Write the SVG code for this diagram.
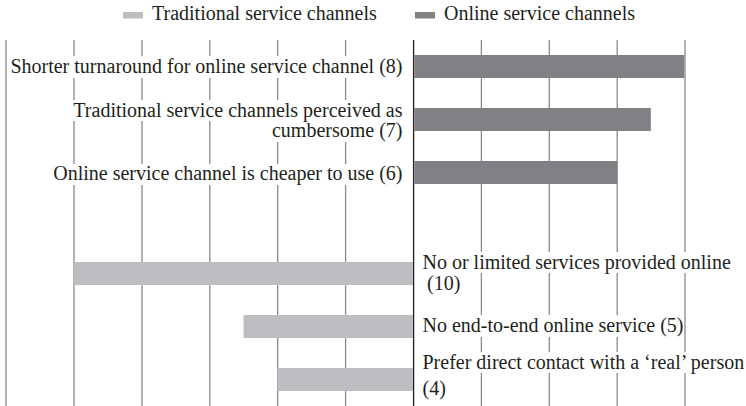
<svg xmlns="http://www.w3.org/2000/svg" width="746" height="406" viewBox="0 0 746 406">
<style>
text{font-family:'Liberation Serif','DejaVu Serif',serif;font-size:20px;fill:#231f20}
.grid{stroke:#8a8a8a;stroke-width:1.3}
.axis{stroke:#231f20;stroke-width:1.3}
.online{fill:#808184}
.trad{fill:#bdbec2}
.bg{fill:#ffffff}
.end{text-anchor:end}
</style>
<rect width="746" height="406" fill="#ffffff"/>
<g id="legend">
<rect class="trad" x="123" y="12" width="20" height="6.5"/>
<text x="152" y="20">Traditional service channels</text>
<rect class="online" x="415" y="12" width="20" height="6.5"/>
<text x="444" y="20">Online service channels</text>
</g>
<g id="gridlines">
<line class="grid" x1="6" y1="40" x2="6" y2="406"/>
<line class="grid" x1="74" y1="40" x2="74" y2="406"/>
<line class="grid" x1="142" y1="40" x2="142" y2="406"/>
<line class="grid" x1="209.8" y1="40" x2="209.8" y2="406"/>
<line class="grid" x1="277.7" y1="40" x2="277.7" y2="406"/>
<line class="grid" x1="345.6" y1="40" x2="345.6" y2="406"/>
<line class="grid" x1="481.4" y1="40" x2="481.4" y2="406"/>
<line class="grid" x1="549.3" y1="40" x2="549.3" y2="406"/>
<line class="grid" x1="617.2" y1="40" x2="617.2" y2="406"/>
<line class="grid" x1="685" y1="40" x2="685" y2="406"/>
<line class="axis" x1="413.6" y1="40" x2="413.6" y2="406"/>
</g>
<g id="bar-shorter-turnaround">
<rect class="online" x="414.3" y="55" width="270" height="23"/>
<rect class="bg" x="9" y="56" width="394" height="22"/>
<text class="end" x="402.5" y="72.5">Shorter turnaround for online service channel (8)</text>
</g>
<g id="bar-cumbersome">
<rect class="online" x="414.3" y="108" width="236.5" height="23"/>
<rect class="bg" x="71.5" y="100" width="331.5" height="21"/>
<rect class="bg" x="267" y="121" width="136" height="21"/>
<text class="end" x="402.5" y="116.5">Traditional service channels perceived as</text>
<text class="end" x="402.5" y="136.5">cumbersome (7)</text>
</g>
<g id="bar-cheaper">
<rect class="online" x="414.3" y="161" width="202.8" height="23"/>
<rect class="bg" x="51" y="164" width="352" height="21"/>
<text class="end" x="402.5" y="180">Online service channel is cheaper to use (6)</text>
</g>
<g id="bar-no-limited">
<rect class="trad" x="74" y="262" width="339" height="23"/>
<rect class="bg" x="421.5" y="252" width="310" height="21"/>
<rect class="bg" x="426" y="273" width="36" height="21"/>
<text x="422.5" y="268.5">No or limited services provided online</text>
<text x="427" y="289.5">(10)</text>
</g>
<g id="bar-end-to-end">
<rect class="trad" x="243.5" y="315" width="169.5" height="23"/>
<rect class="bg" x="421.5" y="315" width="260" height="22"/>
<text x="422.5" y="331.5">No end-to-end online service (5)</text>
</g>
<g id="bar-real-person">
<rect class="trad" x="277.5" y="368" width="135.5" height="23"/>
<rect class="bg" x="421.5" y="352" width="318" height="21"/>
<rect class="bg" x="421.5" y="377" width="28" height="21"/>
<text x="422.5" y="368.5">Prefer direct contact with a ‘real’ person</text>
<text x="422.5" y="394.5">(4)</text>
</g>
</svg>
